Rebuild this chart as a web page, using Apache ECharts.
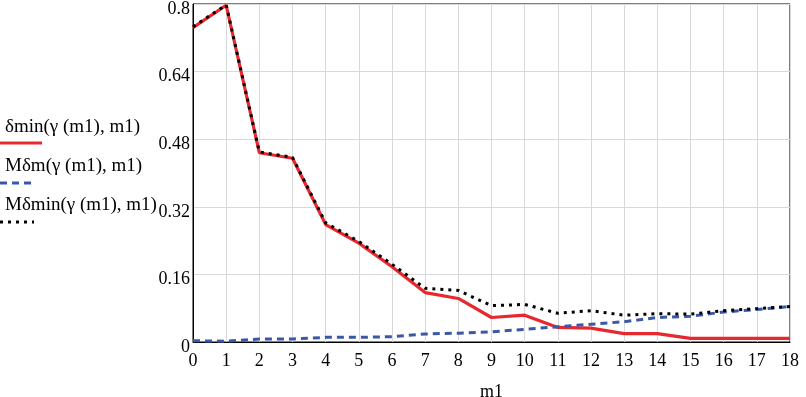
<!DOCTYPE html>
<html>
<head>
<meta charset="utf-8">
<script src="https://cdn.jsdelivr.net/npm/echarts@6/dist/echarts.min.js"></script>
<style>html,body{margin:0;padding:0;background:#fff;}#c{width:806px;height:397px;}</style>
</head>
<body>
<div id="c"></div>
<script>
const m1 = [0,1,2,3,4,5,6,7,8,9,10,11,12,13,14,15,16,17,18];
const deltaMin = [0.744,0.797,0.448,0.435,0.278,0.234,0.178,0.117,0.103,0.058,0.0635,0.0345,0.033,0.020,0.020,0.0087,0.0087,0.0087,0.0087];
const mDeltaM = [0.003,0.002,0.007,0.007,0.011,0.011,0.0125,0.019,0.021,0.024,0.030,0.036,0.042,0.048,0.058,0.061,0.071,0.077,0.084];
const mDeltaMin = [0.746,0.798,0.450,0.437,0.282,0.238,0.184,0.127,0.122,0.086,0.089,0.068,0.074,0.0635,0.067,0.066,0.074,0.079,0.084];
const seriesNames = ['δmin(γ (m1), m1)', 'Mδm(γ (m1), m1)', 'Mδmin(γ (m1), m1)'];
const yTicks = [0, 0.16, 0.32, 0.48, 0.64, 0.8];
const xTitle = 'm1';

const FONT = '"Liberation Serif", "DejaVu Serif", "Noto Serif", serif';
const RED = '#e8282c', BLUE = '#3b58a8', BLACK = '#000000';
const chart = echarts.init(document.getElementById('c'), null, {renderer: 'canvas'});
const toPairs = arr => m1.map((x, i) => [x, arr[i]]);
const txt = (s, x, y) => ({type: 'text', left: x, top: y, style: {text: s, fontFamily: FONT, fontSize: 19, fill: '#000'}});
chart.setOption({
  animation: false,
  backgroundColor: '#fff',
  grid: {left: 193, right: 16, top: 4, bottom: 55, containLabel: false, outerBoundsMode: 'none',
    show: true, borderColor: '#000', borderWidth: 1, backgroundColor: 'transparent'},
  xAxis: {
    type: 'value', min: 0, max: 18, interval: 1,
    name: xTitle, nameLocation: 'middle', nameGap: 41,
    nameTextStyle: {fontFamily: FONT, fontSize: 18, color: '#000'},
    axisLine: {show: true, lineStyle: {color: '#000', width: 1}},
    axisTick: {show: false},
    axisLabel: {fontFamily: FONT, fontSize: 18, color: '#000', margin: 10},
    splitLine: {show: true, lineStyle: {color: '#d8d8d8', width: 1}}
  },
  yAxis: {
    type: 'value', min: 0, max: 0.8, interval: 0.16,
    axisLine: {show: true, lineStyle: {color: '#000', width: 1}},
    axisTick: {show: false},
    axisLabel: {fontFamily: FONT, fontSize: 18, color: '#000', margin: 3, verticalAlign: 'top', lineHeight: 10,
      formatter: v => { const t = yTicks.find(k => Math.abs(k - v) < 1e-6); return String(t !== undefined ? t : +v.toFixed(2)); }},
    splitLine: {show: true, lineStyle: {color: '#d8d8d8', width: 1}}
  },
  series: [
    {name: seriesNames[0], type: 'line', data: toPairs(deltaMin), showSymbol: false, symbol: 'none',
      lineStyle: {color: RED, width: 3.2, type: 'solid'}, z: 2},
    {name: seriesNames[1], type: 'line', data: toPairs(mDeltaM), showSymbol: false, symbol: 'none',
      lineStyle: {color: BLUE, width: 3, type: [7, 5]}, z: 3},
    {name: seriesNames[2], type: 'line', data: toPairs(mDeltaMin), showSymbol: false, symbol: 'none',
      lineStyle: {color: BLACK, width: 3, type: [3, 5]}, z: 4}
  ],
  graphic: [
    txt(seriesNames[0], 5, 118),
    {type: 'line', shape: {x1: 0, y1: 143, x2: 42, y2: 143}, style: {stroke: RED, lineWidth: 3}},
    txt(seriesNames[1], 5, 157),
    {type: 'line', shape: {x1: 0, y1: 183, x2: 34, y2: 183}, style: {stroke: BLUE, lineWidth: 3, lineDash: [7, 5]}},
    txt(seriesNames[2], 5, 196),
    {type: 'line', shape: {x1: 0, y1: 222, x2: 34, y2: 222}, style: {stroke: BLACK, lineWidth: 3, lineDash: [3, 5]}}
  ]
});
</script>
</body>
</html>
